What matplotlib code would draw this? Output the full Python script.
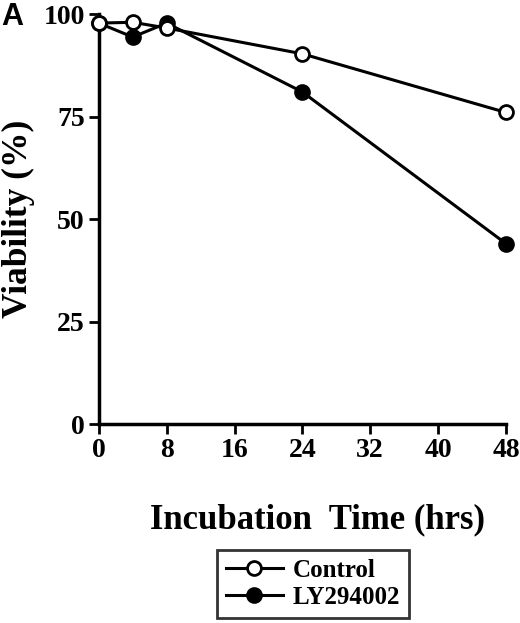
import numpy as np
import matplotlib
matplotlib.use("Agg")
import matplotlib.pyplot as plt

hours = [0, 4, 8, 24, 48]
control = [97.8, 98.0, 96.6, 90.3, 76.0]
ly294002 = [97.8, 94.4, 97.8, 81.0, 44.0]
xticks = [0, 8, 16, 24, 32, 40, 48]
yticks = [0, 25, 50, 75, 100]

plt.rcParams['font.family'] = ['Liberation Serif', 'DejaVu Serif']
plt.rcParams['font.weight'] = 'bold'

fig = plt.figure(figsize=(5.2, 6.23), dpi=100)
ax = fig.add_axes([0.19, 0.3194, 0.783, 0.658])

ax.plot(hours, control, '-o', color='black', lw=2.2, ms=10,
        mfc='white', mec='black', mew=2, label='Control', clip_on=False, zorder=4)
ax.plot(hours, ly294002, '-o', color='black', lw=2.2, ms=10,
        mfc='black', mec='black', mew=2, label='LY294002', clip_on=False, zorder=3)

ax.set_xlim(0, 48)
ax.set_ylim(0, 100)
ax.set_xticks(xticks)
ax.set_yticks(yticks)
ax.tick_params(direction='out', length=7, width=2, labelsize=20, pad=3)
for s in ['top', 'right']:
    ax.spines[s].set_visible(False)
for s in ['left', 'bottom']:
    ax.spines[s].set_linewidth(2.5)

ax.set_xlabel('Incubation  Time (hrs)', fontsize=25, fontweight='bold')
ax.xaxis.set_label_coords(0.536, -0.193)
ax.set_ylabel('Viability (%)', fontsize=25.5, fontweight='bold', labelpad=6)

fig.text(0.002, 0.973, 'A', fontsize=22, fontweight='bold', family='Liberation Sans',
         va='center', ha='left')

leg = fig.legend(loc='center', bbox_to_anchor=(0.602, 0.0626), frameon=True,
                 fancybox=False, edgecolor='black', fontsize=18, handlelength=2.3,
                 borderpad=0.35, labelspacing=0.15, handletextpad=0.4)
leg.get_frame().set_linewidth(2)
for h in leg.legend_handles:
    h.set_markersize(10)

fig.savefig('out.png', dpi=100)
